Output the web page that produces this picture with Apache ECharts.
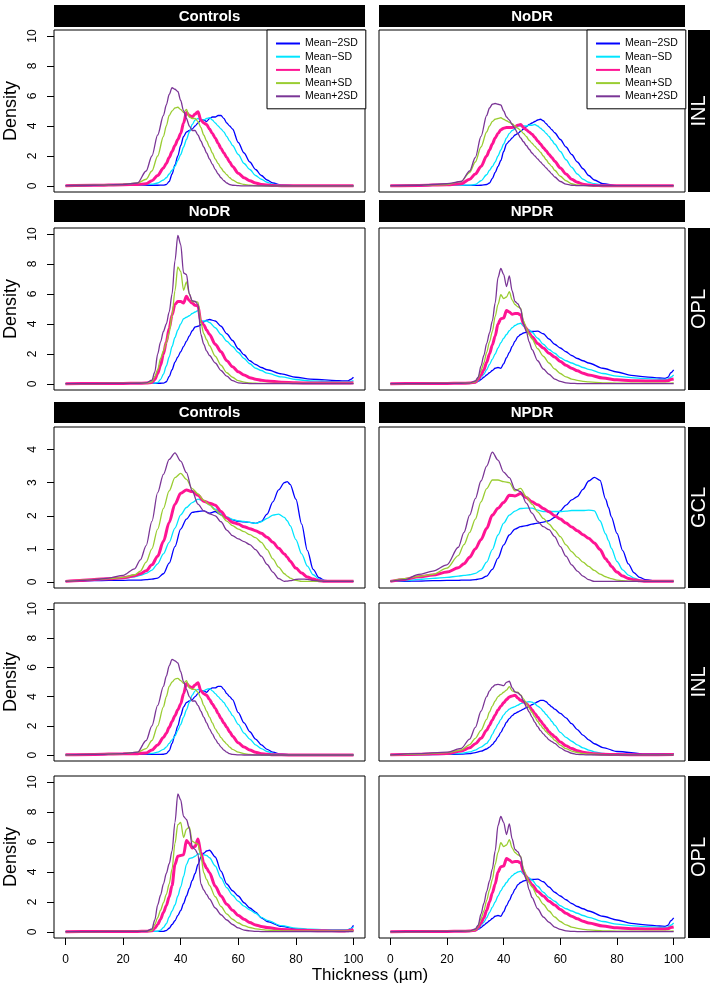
<!DOCTYPE html>
<html><head><meta charset="utf-8">
<script src="https://cdn.jsdelivr.net/npm/echarts/dist/echarts.min.js"></script>
<style>html,body{margin:0;padding:0;background:#fff}#c{width:714px;height:992px}</style>
</head><body><div id="c"></div>
<script>
// ---------- DATA ----------
const seriesNames = ['Mean\u22122SD', 'Mean\u2212SD', 'Mean', 'Mean+SD', 'Mean+2SD'];
const xTicks = [0, 20, 40, 60, 80, 100];
const yTicks10 = [0, 2, 4, 6, 8, 10];
const yTicks4 = [0, 1, 2, 3, 4];

const xINL = [0,10,20,25,28,30,32,34,35,36,37,38,39,40,41,42,43,44,45,46,47,48,49,50,51,52,53,54,55,56,57,58,60,62,64,66,68,70,72,75,80,90,100];
const xOPL = [0,10,20,25,28,30,31,32,33,34,35,36,37,38,39,40,41,42,43,44,45,46,47,48,49,50,52,54,56,58,60,62,64,66,68,70,75,80,85,90,95,97,98,99,100];
const xGCL = [0,5,10,15,20,24,26,28,30,32,34,36,38,40,42,44,46,48,50,52,54,56,58,60,62,64,66,68,70,72,74,76,77,78,80,82,84,86,88,90,95,100];

// Controls INL
const ctrlINL_m2sd = [0.02,0.04,0.06,0.06,0.05,0.05,0.05,0.06,0.1,0.3,0.8,1.4,2.0,2.7,3.3,3.6,3.7,3.8,4.0,4.2,4.4,4.4,4.3,4.5,4.6,4.6,4.7,4.7,4.5,4.2,4.0,3.8,2.9,2.2,1.6,1.1,0.7,0.4,0.2,0.06,0.02,0.01,0.01];
const ctrlINL_m1sd = [0.02,0.05,0.08,0.1,0.1,0.12,0.2,0.4,0.55,0.8,1.05,1.3,1.7,2.1,2.6,3.1,3.6,4.1,4.4,4.5,4.4,4.4,4.5,4.55,4.4,4.2,4.0,3.8,3.6,3.3,3.0,2.7,2.1,1.5,1.1,0.7,0.45,0.25,0.12,0.05,0.02,0.01,0.01];
const ctrlINL_mean = [0.02,0.05,0.09,0.1,0.15,0.35,0.7,1.2,1.5,1.9,2.3,2.7,3.1,3.5,4.2,4.9,4.7,4.6,4.8,4.95,4.4,4.2,4.1,3.8,3.5,3.2,2.85,2.5,2.2,1.9,1.6,1.3,0.85,0.55,0.35,0.2,0.1,0.06,0.03,0.02,0.01,0.01,0.01];
const ctrlINL_p1sd = [0.02,0.05,0.1,0.2,0.45,1.0,2.0,3.3,4.0,4.7,5.0,5.2,5.25,5.1,4.9,5.1,4.6,4.5,4.5,4.3,3.9,3.4,3.0,2.6,2.2,1.8,1.5,1.2,0.95,0.75,0.55,0.4,0.2,0.1,0.05,0.02,0.01,0.01,0.01,0.01,0.01,0.01,0.01];
const ctrlINL_p2sd = [0.02,0.05,0.1,0.2,1.0,2.0,3.4,4.7,5.4,6.1,6.55,6.45,6.3,5.7,5.0,4.5,4.0,3.7,3.7,3.4,3.0,2.6,2.2,1.8,1.45,1.1,0.8,0.55,0.35,0.2,0.1,0.05,0.02,0.01,0.01,0.01,0.01,0.01,0.01,0.01,0.01,0.01,0.01];

// NoDR INL
const nodrINL_m2sd = [0.02,0.03,0.04,0.04,0.04,0.04,0.05,0.1,0.2,0.5,0.9,1.3,1.7,2.3,2.8,3.0,3.2,3.4,3.5,3.65,3.8,3.95,4.1,4.2,4.3,4.4,4.45,4.35,4.15,3.95,3.75,3.55,3.1,2.6,2.1,1.6,1.15,0.7,0.4,0.15,0.03,0.02,0.02];
const nodrINL_m1sd = [0.02,0.03,0.04,0.05,0.06,0.1,0.35,0.75,1.05,1.3,1.6,2.0,2.4,2.8,3.2,3.5,3.7,3.8,4.0,4.0,4.0,4.0,4.05,4.05,4.1,4.0,3.85,3.7,3.5,3.3,3.05,2.8,2.3,1.75,1.25,0.8,0.45,0.25,0.15,0.06,0.02,0.02,0.02];
const nodrINL_mean = [0.02,0.04,0.08,0.15,0.45,0.8,1.3,2.0,2.4,2.8,3.2,3.5,3.75,3.85,3.9,3.9,3.9,3.95,4.05,4.1,3.9,3.75,3.6,3.45,3.25,3.0,2.8,2.55,2.35,2.1,1.9,1.65,1.2,0.8,0.45,0.25,0.12,0.06,0.03,0.02,0.02,0.02,0.02];
const nodrINL_p1sd = [0.02,0.04,0.1,0.3,0.9,1.6,2.6,3.6,4.0,4.3,4.45,4.5,4.55,4.45,4.35,4.25,4.15,4.0,3.85,3.7,3.5,3.3,3.05,2.85,2.65,2.45,2.25,2.0,1.75,1.5,1.3,1.05,0.65,0.35,0.15,0.08,0.04,0.02,0.02,0.02,0.02,0.02,0.02];
const nodrINL_p2sd = [0.02,0.05,0.15,0.3,1.0,1.9,3.3,4.7,5.2,5.45,5.5,5.45,5.4,5.0,4.6,4.4,4.1,3.8,3.5,3.2,2.95,2.7,2.45,2.2,2.0,1.8,1.6,1.4,1.2,1.0,0.8,0.6,0.3,0.12,0.05,0.02,0.02,0.02,0.02,0.02,0.02,0.02,0.02];

// NPDR INL
const npdrINL_m2sd = [0.02,0.03,0.05,0.07,0.1,0.17,0.27,0.42,0.55,0.72,0.95,1.25,1.55,1.9,2.25,2.5,2.7,2.85,2.95,3.05,3.15,3.25,3.35,3.45,3.55,3.65,3.75,3.75,3.65,3.45,3.3,3.15,2.85,2.55,2.15,1.75,1.37,1.05,0.78,0.52,0.25,0.08,0.1];
const npdrINL_m1sd = [0.02,0.04,0.08,0.12,0.22,0.35,0.55,0.8,1.05,1.42,1.78,2.12,2.45,2.75,2.98,3.15,3.25,3.32,3.42,3.52,3.58,3.62,3.65,3.62,3.5,3.35,3.22,3.0,2.78,2.55,2.3,2.05,1.55,1.22,0.95,0.7,0.5,0.35,0.23,0.12,0.05,0.03,0.05];
const npdrINL_mean = [0.02,0.06,0.12,0.28,0.5,0.78,1.15,1.7,2.05,2.4,2.75,3.08,3.35,3.58,3.8,3.98,4.05,4.1,3.9,3.75,3.65,3.52,3.35,3.1,2.85,2.6,2.35,2.1,1.85,1.6,1.42,1.26,0.9,0.65,0.45,0.3,0.2,0.14,0.09,0.06,0.04,0.03,0.04];
const npdrINL_p1sd = [0.02,0.07,0.17,0.35,0.72,1.15,1.7,2.45,2.95,3.35,3.7,4.0,4.15,4.3,4.45,4.68,4.4,4.32,4.3,4.12,3.85,3.54,3.22,2.92,2.6,2.3,2.05,1.82,1.6,1.4,1.22,1.02,0.68,0.45,0.28,0.18,0.11,0.07,0.05,0.04,0.03,0.03,0.03];
const npdrINL_p2sd = [0.02,0.1,0.2,0.46,1.1,1.9,3.0,4.0,4.4,4.65,4.8,4.84,4.8,4.75,4.98,5.05,4.6,4.32,4.25,4.1,3.7,3.3,2.95,2.6,2.25,1.95,1.68,1.45,1.25,1.05,0.92,0.8,0.5,0.28,0.13,0.05,0.03,0.02,0.02,0.02,0.02,0.02,0.02];

// NoDR OPL
const nodrOPL_m2sd = [0.02,0.03,0.04,0.04,0.04,0.05,0.05,0.05,0.05,0.06,0.15,0.5,0.95,1.45,1.8,2.15,2.5,2.85,3.2,3.55,3.8,3.85,3.95,4.15,4.25,4.3,4.2,3.85,3.35,2.9,2.35,1.95,1.55,1.3,1.1,0.95,0.68,0.45,0.33,0.27,0.22,0.2,0.2,0.3,0.45];
const nodrOPL_m1sd = [0.02,0.03,0.04,0.04,0.05,0.05,0.06,0.1,0.3,0.65,1.2,1.8,2.5,3.1,3.6,4.0,4.35,4.45,4.55,4.7,4.8,4.9,4.2,4.2,4.2,4.1,3.75,3.3,2.85,2.5,2.1,1.7,1.35,1.05,0.9,0.72,0.47,0.3,0.2,0.17,0.16,0.15,0.15,0.17,0.22];
const nodrOPL_mean = [0.02,0.03,0.04,0.05,0.06,0.1,0.3,0.7,1.25,2.0,2.8,3.7,4.6,5.3,5.5,5.5,5.4,5.85,5.55,5.4,5.25,5.2,4.15,3.95,3.6,3.3,2.65,2.15,1.55,1.15,0.82,0.6,0.42,0.32,0.25,0.2,0.12,0.08,0.06,0.06,0.06,0.06,0.06,0.07,0.08];
const nodrOPL_p1sd = [0.02,0.03,0.04,0.05,0.06,0.15,0.5,0.95,1.7,2.2,2.75,3.4,4.6,6.2,7.8,7.5,6.25,6.8,6.0,5.5,5.5,5.45,4.1,3.35,2.95,2.55,1.85,1.25,0.75,0.45,0.22,0.12,0.07,0.05,0.04,0.04,0.04,0.04,0.04,0.04,0.04,0.04,0.04,0.04,0.04];
const nodrOPL_p2sd = [0.02,0.03,0.04,0.05,0.08,0.25,0.8,2.0,2.8,3.5,4.0,4.8,6.0,8.2,9.9,9.3,7.4,7.3,6.0,5.55,5.5,5.3,3.3,2.65,2.2,1.9,1.4,0.9,0.52,0.22,0.08,0.04,0.03,0.03,0.03,0.03,0.03,0.03,0.03,0.03,0.03,0.03,0.03,0.03,0.03];

// NPDR OPL
const npdrOPL_m2sd = [0.02,0.03,0.04,0.05,0.06,0.1,0.17,0.3,0.45,0.6,0.75,0.9,1.05,1.1,1.05,1.35,1.75,2.1,2.5,2.85,3.15,3.3,3.4,3.45,3.5,3.5,3.52,3.35,3.0,2.65,2.4,2.15,1.9,1.7,1.55,1.4,1.05,0.8,0.58,0.47,0.4,0.38,0.45,0.75,0.94];
const npdrOPL_m1sd = [0.02,0.03,0.04,0.05,0.06,0.1,0.2,0.45,0.65,0.95,1.3,1.65,2.0,2.4,2.75,3.05,3.3,3.55,3.75,3.9,4.0,4.05,3.85,3.7,3.6,3.45,3.05,2.65,2.3,2.05,1.75,1.55,1.4,1.25,1.1,0.98,0.7,0.52,0.43,0.36,0.31,0.31,0.33,0.45,0.6];
const npdrOPL_mean = [0.02,0.03,0.04,0.05,0.06,0.12,0.3,0.6,0.95,1.45,2.0,2.6,3.2,4.0,4.35,4.4,4.9,4.8,4.65,4.7,4.7,4.6,4.0,3.7,3.4,3.15,2.7,2.4,2.05,1.8,1.5,1.25,1.05,0.88,0.72,0.6,0.4,0.28,0.22,0.2,0.2,0.2,0.22,0.3,0.33];
const npdrOPL_p1sd = [0.02,0.03,0.04,0.05,0.06,0.15,0.4,0.9,1.4,2.1,2.8,3.5,4.5,5.3,5.95,5.7,5.8,6.15,5.6,5.3,5.15,5.05,4.2,3.7,3.3,3.0,2.35,1.85,1.4,1.0,0.7,0.48,0.33,0.24,0.18,0.14,0.08,0.06,0.05,0.05,0.05,0.05,0.05,0.06,0.07];
const npdrOPL_p2sd = [0.02,0.03,0.04,0.05,0.06,0.2,0.45,1.2,1.9,2.7,3.4,4.2,5.4,7.1,7.7,7.3,6.5,7.2,6.2,5.5,5.35,5.0,4.0,3.5,2.8,2.3,1.55,1.0,0.65,0.33,0.17,0.08,0.04,0.03,0.03,0.03,0.03,0.03,0.03,0.03,0.03,0.03,0.03,0.03,0.03];

// Controls OPL
const ctrlOPL_m2sd = [0.02,0.03,0.04,0.04,0.04,0.04,0.04,0.04,0.04,0.04,0.1,0.25,0.5,0.75,1.1,1.44,1.9,2.4,2.9,3.44,3.9,4.5,5.0,5.25,5.4,5.45,5.0,4.05,3.2,2.75,2.4,1.95,1.6,1.33,0.95,0.7,0.37,0.2,0.16,0.13,0.11,0.11,0.12,0.22,0.44];
const ctrlOPL_m1sd = [0.02,0.03,0.04,0.04,0.04,0.04,0.04,0.05,0.12,0.3,0.55,1.0,1.4,1.8,2.4,3.0,3.7,4.5,4.9,4.95,5.05,5.2,5.2,5.15,5.1,4.95,4.4,3.6,2.95,2.45,2.05,1.72,1.48,1.25,0.98,0.78,0.42,0.26,0.19,0.16,0.16,0.16,0.16,0.22,0.33];
const ctrlOPL_mean = [0.02,0.03,0.04,0.04,0.05,0.08,0.25,0.5,0.85,1.3,1.75,2.35,3.1,4.5,5.05,5.1,5.15,6.1,5.9,5.6,5.7,6.2,5.3,4.6,4.25,3.95,3.05,2.4,1.85,1.45,1.1,0.85,0.63,0.47,0.37,0.3,0.17,0.12,0.1,0.08,0.07,0.07,0.08,0.11,0.18];
const ctrlOPL_p1sd = [0.02,0.03,0.04,0.04,0.05,0.1,0.5,0.95,1.45,1.95,2.5,3.2,4.2,5.9,7.15,7.3,6.3,6.85,7.0,6.05,5.95,5.85,5.1,3.95,3.5,3.1,2.35,1.7,1.2,0.85,0.6,0.42,0.3,0.21,0.16,0.12,0.08,0.06,0.05,0.05,0.05,0.05,0.05,0.06,0.08];
const ctrlOPL_p2sd = [0.02,0.03,0.04,0.04,0.05,0.2,0.8,1.8,2.45,3.2,3.9,4.55,5.4,7.3,9.2,8.8,7.7,7.5,6.9,5.7,5.5,5.2,3.2,2.8,2.5,2.2,1.6,1.15,0.8,0.5,0.27,0.13,0.07,0.04,0.03,0.03,0.03,0.03,0.03,0.03,0.03,0.03,0.03,0.03,0.03];

// Controls GCL
const ctrlGCL_m2sd = [0.02,0.03,0.04,0.05,0.05,0.06,0.06,0.07,0.09,0.12,0.25,0.57,1.07,1.6,1.9,2.1,2.13,2.15,2.08,2.13,2.03,1.93,1.88,1.83,1.82,1.8,1.77,1.83,2.05,2.42,2.78,3.0,3.03,2.95,2.5,1.75,0.95,0.38,0.13,0.05,0.02,0.02];
const ctrlGCL_m1sd = [0.02,0.04,0.06,0.08,0.11,0.16,0.2,0.26,0.36,0.55,0.85,1.2,1.63,2.03,2.25,2.4,2.5,2.45,2.33,2.2,2.07,1.97,1.89,1.85,1.83,1.8,1.77,1.82,1.92,2.02,2.05,1.95,1.85,1.7,1.28,0.85,0.48,0.22,0.09,0.04,0.02,0.02];
const ctrlGCL_mean = [0.02,0.05,0.08,0.1,0.13,0.19,0.25,0.34,0.52,0.78,1.23,1.8,2.35,2.68,2.78,2.73,2.62,2.44,2.38,2.32,2.13,1.93,1.8,1.75,1.67,1.61,1.55,1.47,1.35,1.2,1.02,0.85,0.75,0.63,0.42,0.27,0.15,0.09,0.04,0.02,0.02,0.02];
const ctrlGCL_p1sd = [0.02,0.05,0.08,0.1,0.14,0.22,0.33,0.6,1.0,1.6,2.22,2.75,3.15,3.28,3.1,2.82,2.66,2.47,2.33,2.17,2.02,1.84,1.7,1.6,1.52,1.43,1.34,1.2,0.98,0.7,0.45,0.25,0.18,0.12,0.05,0.02,0.02,0.02,0.02,0.02,0.02,0.02];
const ctrlGCL_p2sd = [0.02,0.04,0.07,0.12,0.2,0.4,0.67,1.1,1.83,2.7,3.25,3.7,3.9,3.65,3.3,2.75,2.35,2.15,2.06,2.0,1.82,1.57,1.4,1.3,1.22,1.13,0.98,0.78,0.53,0.3,0.1,0.02,0.03,0.04,0.08,0.09,0.08,0.05,0.03,0.02,0.02,0.02];

// NPDR GCL
const npdrGCL_m2sd = [0.02,0.02,0.03,0.04,0.05,0.05,0.06,0.06,0.07,0.1,0.18,0.38,0.72,1.12,1.42,1.6,1.67,1.7,1.75,1.78,1.81,1.85,1.95,2.15,2.32,2.48,2.58,2.8,3.05,3.16,3.07,2.5,2.25,1.97,1.47,0.95,0.55,0.28,0.14,0.07,0.02,0.02];
const npdrGCL_m1sd = [0.02,0.04,0.08,0.11,0.14,0.18,0.2,0.22,0.26,0.36,0.6,0.98,1.42,1.78,2.02,2.14,2.22,2.23,2.23,2.17,2.13,2.13,2.13,2.13,2.14,2.16,2.16,2.16,2.17,2.15,1.85,1.45,1.25,1.02,0.62,0.37,0.21,0.12,0.06,0.03,0.02,0.02];
const npdrGCL_mean = [0.02,0.08,0.16,0.21,0.3,0.43,0.55,0.75,1.0,1.28,1.62,2.02,2.23,2.4,2.62,2.6,2.67,2.55,2.42,2.33,2.22,2.12,2.0,1.9,1.78,1.66,1.55,1.43,1.32,1.18,0.98,0.7,0.6,0.47,0.3,0.18,0.11,0.07,0.04,0.02,0.02,0.02];
const npdrGCL_p1sd = [0.02,0.1,0.17,0.23,0.42,0.8,1.13,1.5,1.9,2.42,2.82,3.08,3.08,3.03,3.0,2.75,2.83,2.58,2.35,2.12,1.92,1.75,1.57,1.37,1.12,0.92,0.75,0.6,0.47,0.35,0.24,0.16,0.13,0.1,0.06,0.04,0.03,0.02,0.02,0.02,0.02,0.02];
const npdrGCL_p2sd = [0.02,0.07,0.23,0.33,0.52,1.05,1.5,2.02,2.52,3.05,3.5,3.92,3.68,3.32,3.15,2.8,2.73,2.38,2.08,1.83,1.67,1.58,1.37,1.07,0.78,0.52,0.33,0.18,0.07,0.02,0.02,0.02,0.02,0.02,0.02,0.02,0.02,0.02,0.02,0.02,0.02,0.02];

// ---------- LAYOUT / STYLE ----------
const FONT = '"Liberation Sans", Arial, Helvetica, sans-serif';
const COLORS = ['#0000FF', '#00E5FF', '#FF1493', '#9ACD32', '#7A3596'];
const WIDTHS = [1.3, 1.3, 3, 1.3, 1.3];
const colLeft = [54, 379];
const colWidth = [311, 306];
const rowTop = [30, 228, 427, 603, 776];
const rowHeight = [162, 162, 161, 158, 162];

const panels = [
  {r:0, c:0, x:xINL, ys:[ctrlINL_m2sd, ctrlINL_m1sd, ctrlINL_mean, ctrlINL_p1sd, ctrlINL_p2sd]},
  {r:0, c:1, x:xINL, ys:[nodrINL_m2sd, nodrINL_m1sd, nodrINL_mean, nodrINL_p1sd, nodrINL_p2sd]},
  {r:1, c:0, x:xOPL, ys:[nodrOPL_m2sd, nodrOPL_m1sd, nodrOPL_mean, nodrOPL_p1sd, nodrOPL_p2sd]},
  {r:1, c:1, x:xOPL, ys:[npdrOPL_m2sd, npdrOPL_m1sd, npdrOPL_mean, npdrOPL_p1sd, npdrOPL_p2sd]},
  {r:2, c:0, x:xGCL, ys:[ctrlGCL_m2sd, ctrlGCL_m1sd, ctrlGCL_mean, ctrlGCL_p1sd, ctrlGCL_p2sd], gcl:true},
  {r:2, c:1, x:xGCL, ys:[npdrGCL_m2sd, npdrGCL_m1sd, npdrGCL_mean, npdrGCL_p1sd, npdrGCL_p2sd], gcl:true},
  {r:3, c:0, x:xINL, ys:[ctrlINL_m2sd, ctrlINL_m1sd, ctrlINL_mean, ctrlINL_p1sd, ctrlINL_p2sd]},
  {r:3, c:1, x:xINL, ys:[npdrINL_m2sd, npdrINL_m1sd, npdrINL_mean, npdrINL_p1sd, npdrINL_p2sd]},
  {r:4, c:0, x:xOPL, ys:[ctrlOPL_m2sd, ctrlOPL_m1sd, ctrlOPL_mean, ctrlOPL_p1sd, ctrlOPL_p2sd]},
  {r:4, c:1, x:xOPL, ys:[npdrOPL_m2sd, npdrOPL_m1sd, npdrOPL_mean, npdrOPL_p1sd, npdrOPL_p2sd]}
];

const grids = [], xAxes = [], yAxes = [], series = [];
panels.forEach((p, i) => {
  grids.push({left: colLeft[p.c], top: rowTop[p.r], width: colWidth[p.c], height: rowHeight[p.r],
    show: true, borderColor: '#000', borderWidth: 1, backgroundColor: 'transparent', containLabel: false});
  const bottom = p.r === 4;
  xAxes.push({gridIndex: i, type: 'value', min: -4, max: 104, show: bottom, position: 'bottom',
    axisLine: {show: false, onZero: false}, splitLine: {show: false},
    axisTick: {show: bottom, length: 7, customValues: xTicks, lineStyle: {color: '#000', width: 1}},
    axisLabel: {show: bottom, customValues: xTicks, margin: 16, fontSize: 12, color: '#000', fontFamily: FONT}});
  const left = p.c === 0;
  const yt = p.gcl ? yTicks4 : yTicks10;
  yAxes.push({gridIndex: i, type: 'value', position: 'left',
    min: p.gcl ? -0.18 : -0.4, max: p.gcl ? 4.68 : 10.4, show: left,
    axisLine: {show: false, onZero: false}, splitLine: {show: false},
    axisTick: {show: left, length: 7, customValues: yt, lineStyle: {color: '#000', width: 1}},
    axisLabel: {show: left, customValues: yt, rotate: 90, margin: 15, fontSize: 12, color: '#000', fontFamily: FONT}});
  p.ys.forEach((ys, k) => {
    series.push({type: 'line', name: seriesNames[k], xAxisIndex: i, yAxisIndex: i,
      data: p.x.map((xv, j) => [xv, ys[j]]), symbol: 'none', smooth: 0.3, smoothMonotone: 'x',
      color: COLORS[k], lineStyle: {width: WIDTHS[k], color: COLORS[k]}, animation: false, silent: true});
  });
});

const legendBase = {data: seriesNames, orient: 'vertical', top: 30, padding: [8, 8, 7, 8],
  itemWidth: 24, itemHeight: 11, itemGap: 2.2, borderColor: '#000', borderWidth: 1, borderRadius: 0,
  backgroundColor: '#fff', selectedMode: false, itemStyle: {opacity: 0},
  textStyle: {fontSize: 10.5, color: '#000', fontFamily: FONT}};
const legends = [Object.assign({left: 267}, legendBase), Object.assign({left: 587}, legendBase)];

// strip labels and titles
const titleBars = [
  {r:0, c:0, text:'Controls', y:5, h:22}, {r:0, c:1, text:'NoDR', y:5, h:22},
  {r:1, c:0, text:'NoDR', y:200, h:22}, {r:1, c:1, text:'NPDR', y:200, h:22},
  {r:2, c:0, text:'Controls', y:402, h:21}, {r:2, c:1, text:'NPDR', y:402, h:21}
];
const stripLabels = ['INL', 'OPL', 'GCL', 'INL', 'OPL'];
const densityRows = [0, 1, 3, 4];

const graphics = [];
titleBars.forEach(t => {
  graphics.push({type: 'rect', shape: {x: colLeft[t.c], y: t.y, width: colWidth[t.c], height: t.h}, style: {fill: '#000'}, silent: true});
  graphics.push({type: 'text', x: colLeft[t.c] + colWidth[t.c] / 2, y: t.y + t.h / 2 + 0.5,
    style: {text: t.text, fill: '#fff', font: 'bold 15px ' + FONT, align: 'center', verticalAlign: 'middle'}, silent: true});
});
stripLabels.forEach((s, r) => {
  graphics.push({type: 'rect', shape: {x: 688, y: rowTop[r], width: 22, height: rowHeight[r]}, style: {fill: '#000'}, silent: true});
  graphics.push({type: 'text', x: 699.5, y: rowTop[r] + rowHeight[r] / 2, rotation: Math.PI / 2,
    style: {text: s, fill: '#fff', font: '20px ' + FONT, align: 'center', verticalAlign: 'middle'}, silent: true});
});
densityRows.forEach(r => {
  graphics.push({type: 'text', x: 11, y: rowTop[r] + rowHeight[r] / 2, rotation: Math.PI / 2,
    style: {text: 'Density', fill: '#000', font: '18px ' + FONT, align: 'center', verticalAlign: 'middle'}, silent: true});
});
graphics.push({type: 'text', x: 370, y: 975,
  style: {text: 'Thickness (\u00B5m)', fill: '#000', font: '17px ' + FONT, align: 'center', verticalAlign: 'middle'}, silent: true});

const chart = echarts.init(document.getElementById('c'), null, {renderer: 'canvas'});
chart.setOption({
  animation: false,
  backgroundColor: '#fff',
  grid: grids, xAxis: xAxes, yAxis: yAxes, series: series,
  legend: legends,
  graphic: graphics
});
</script></body></html>
